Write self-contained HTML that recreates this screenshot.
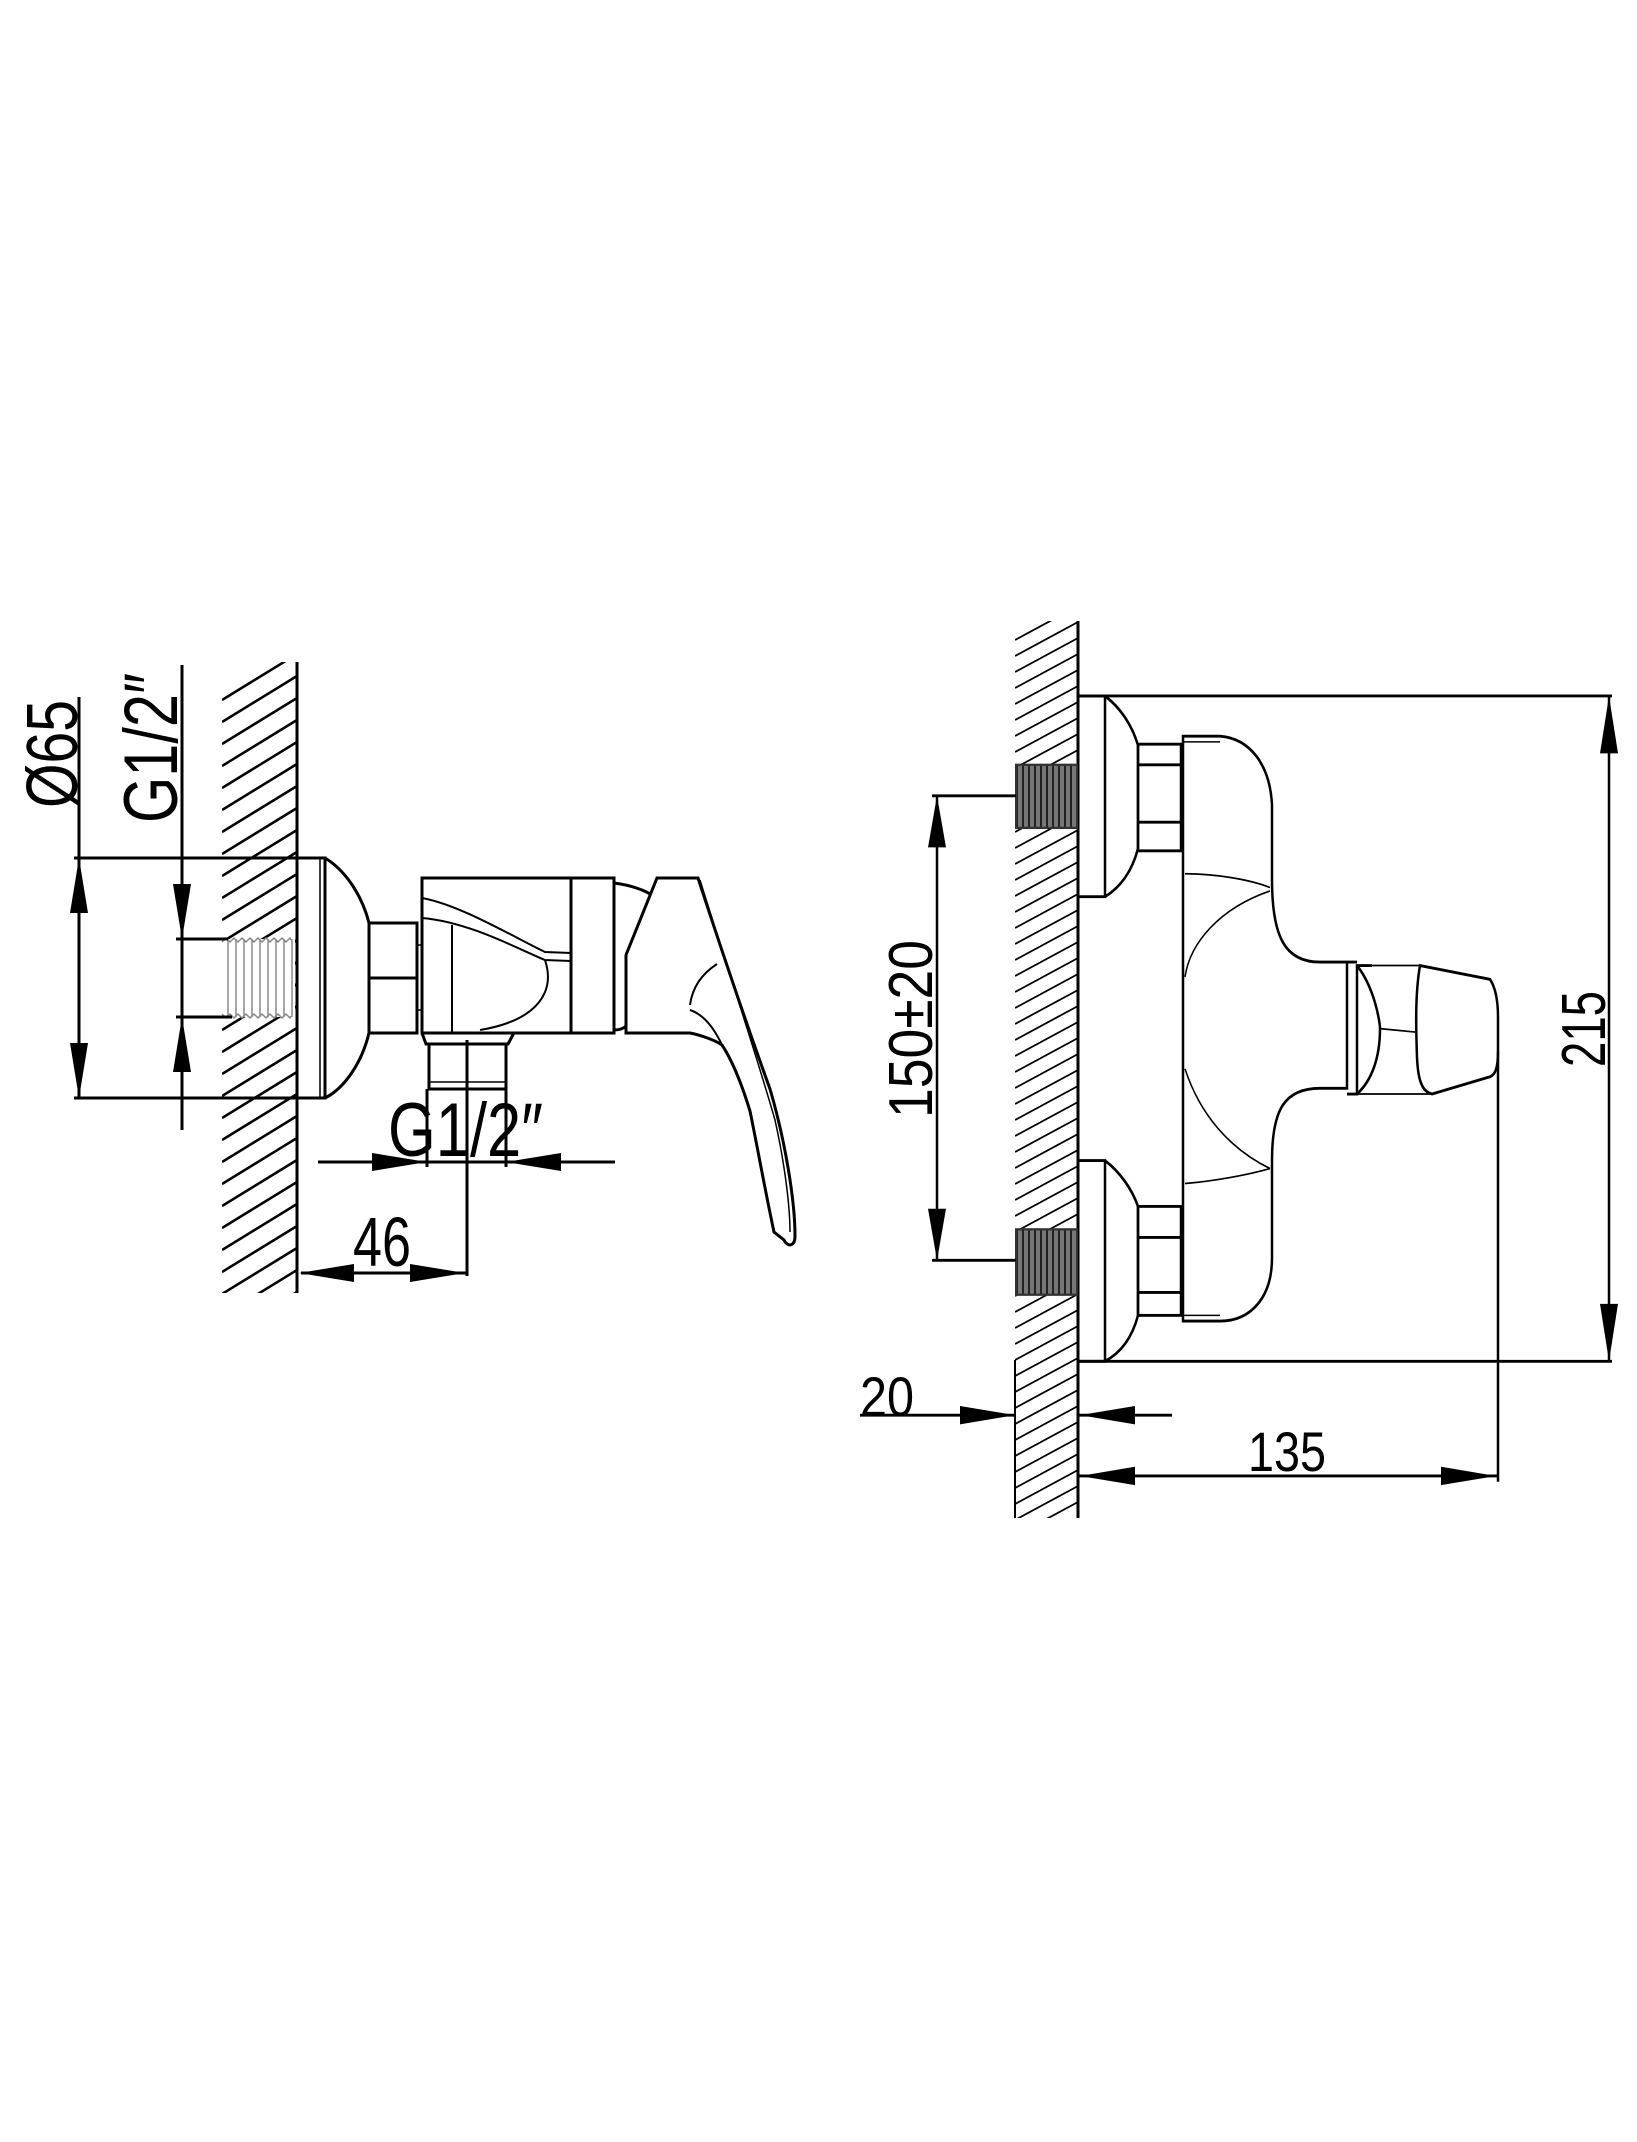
<!DOCTYPE html>
<html><head><meta charset="utf-8"><style>html,body{margin:0;padding:0;background:#fff}svg{display:block}text{font-family:"Liberation Sans",sans-serif;fill:#000}</style></head><body>
<svg width="1637" height="2142" viewBox="0 0 1637 2142" xmlns="http://www.w3.org/2000/svg">
<defs>
<clipPath id="cl"><rect x="222" y="662" width="75" height="631"/></clipPath>
<clipPath id="cr"><rect x="1015" y="621" width="63" height="897"/></clipPath>
<pattern id="tl" width="8" height="100" patternUnits="userSpaceOnUse"><line x1="4" y1="0" x2="4" y2="100" stroke="#888" stroke-width="1.5"/></pattern>
<pattern id="tr" width="6" height="100" patternUnits="userSpaceOnUse"><rect width="6" height="100" fill="#777"/><line x1="3" y1="0" x2="3" y2="100" stroke="#222" stroke-width="2"/></pattern>
</defs>
<g stroke="#000" fill="none">
<!-- left hatch -->
<g clip-path="url(#cl)" stroke-width="2.5">
<path d="M222,700 L297,654 M222,722 L297,676 M222,744 L297,698 M222,766 L297,720 M222,788 L297,742 M222,810 L297,764 M222,832 L297,786 M222,854 L297,808 M222,876 L297,830 M222,898 L297,852 M222,920 L297,874 M222,942 L297,896 M222,964 L297,918 M222,986 L297,940 M222,1008 L297,962 M222,1030 L297,984 M222,1052 L297,1006 M222,1074 L297,1028 M222,1096 L297,1050 M222,1118 L297,1072 M222,1140 L297,1094 M222,1162 L297,1116 M222,1184 L297,1138 M222,1206 L297,1160 M222,1228 L297,1182 M222,1250 L297,1204 M222,1272 L297,1226 M222,1294 L297,1248 M222,1316 L297,1270 M222,1338 L297,1292"/>
</g>
<line x1="297" y1="662" x2="297" y2="1293" stroke-width="3"/>
<!-- thread left -->
<rect x="222" y="939" width="73" height="78" fill="#fff" stroke="none"/>
<rect x="222" y="939" width="73" height="78" fill="url(#tl)" stroke="none"/>
<path d="M222,942 l4,-4 l4,4 l4,-4 l4,4 l4,-4 l4,4 l4,-4 l4,4 l4,-4 l4,4 l4,-4 l4,4 l4,-4 l4,4 l4,-4 l4,4 l4,-4 l1,2 M222,1014 l4,4 l4,-4 l4,4 l4,-4 l4,4 l4,-4 l4,4 l4,-4 l4,4 l4,-4 l4,4 l4,-4 l4,4 l4,-4 l4,4 l4,-4 l4,4 l1,-2" stroke="#888" stroke-width="1.5"/>
<!-- dims left -->
<g stroke-width="3">
<line x1="74" y1="858" x2="325" y2="858"/><line x1="74" y1="1098" x2="325" y2="1098"/>
<line x1="79" y1="697" x2="79" y2="1098"/>
<line x1="182" y1="665" x2="182" y2="1130"/>
<line x1="176" y1="939" x2="228" y2="939"/><line x1="176" y1="1017" x2="232" y2="1017"/>
</g>
<g fill="#000" stroke="none">
<path d="M79,858 l-9,55 h18z"/><path d="M79,1098 l-9,-55 h18z"/>
<path d="M182,939 l-9,-55 h18z"/><path d="M182,1017 l-9,55 h18z"/>
</g>
<g stroke-width="3">
<path d="M297,858 H325 V1098 H297"/>
<path d="M325,858 C345,870 362,895 369,923 V1033 C362,1062 345,1088 325,1098"/>
<line x1="320" y1="858" x2="320" y2="1098" stroke-width="1.5"/>
<rect x="369" y="923" width="48" height="110"/>
<line x1="369" y1="978" x2="417" y2="978"/>
<line x1="417" y1="945" x2="422" y2="945" stroke-width="1.5"/><line x1="417" y1="1010" x2="422" y2="1010" stroke-width="1.5"/>
<rect x="422" y="878" width="192" height="155"/>
<line x1="571" y1="878" x2="571" y2="1033"/>
<path d="M422,898 C460,905 510,935 545,952 L571,953 M422,918 C470,922 520,950 545,960 L571,961" stroke-width="2"/>
<path d="M545,960 C555,990 540,1020 480,1030 M452,925 V1033" stroke-width="2"/>
<path d="M422,1033 L426,1044 H508 L514,1033"/>
<rect x="429" y="1044" width="77" height="45"/>
<line x1="430" y1="1082" x2="505" y2="1082" stroke-width="1.5"/>
<path d="M614,883 C630,885 645,890 653,896"/>
<path d="M614,1030 C620,1030 624,1028 626,1026"/>
<path d="M626,1033 L626,955 L657,878 H698 C715,930 745,1020 770,1089 C785,1140 795,1200 795,1236 C795,1246 788,1248 784,1240 L774,1232 C765,1190 758,1150 750,1111 C742,1085 732,1060 722,1045 C715,1040 700,1035 690,1033 Z" fill="#fff"/>
<path d="M700,880 C720,945 755,1050 775,1120 C786,1170 790,1210 790,1232" stroke-width="1.5"/>
<path d="M717,964 C700,975 692,990 690,1005 M690,1010 C705,1015 715,1030 722,1045" stroke-width="2"/>
<line x1="467" y1="1040" x2="467" y2="1276"/>
<line x1="427" y1="1089" x2="427" y2="1167"/><line x1="506" y1="1089" x2="506" y2="1167"/>
<line x1="318" y1="1162" x2="615" y2="1162"/>
<line x1="301" y1="1273" x2="467" y2="1273"/>
</g>
<g fill="#000" stroke="none">
<path d="M427,1162 l-55,-9 v18z"/><path d="M506,1162 l55,-9 v18z"/>
<path d="M299,1273 l55,-9 v18z"/><path d="M465,1273 l-55,-9 v18z"/>
</g>

<!-- right hatch -->
<g clip-path="url(#cr)" stroke-width="1.8">
<path d="M1015,640 l63,-34 M1015,656 l63,-34 M1015,672 l63,-34 M1015,688 l63,-34 M1015,704 l63,-34 M1015,720 l63,-34 M1015,736 l63,-34 M1015,752 l63,-34 M1015,768 l63,-34 M1015,784 l63,-34 M1015,800 l63,-34 M1015,816 l63,-34 M1015,832 l63,-34 M1015,848 l63,-34 M1015,864 l63,-34 M1015,880 l63,-34 M1015,896 l63,-34 M1015,912 l63,-34 M1015,928 l63,-34 M1015,944 l63,-34 M1015,960 l63,-34 M1015,976 l63,-34 M1015,992 l63,-34 M1015,1008 l63,-34 M1015,1024 l63,-34 M1015,1040 l63,-34 M1015,1056 l63,-34 M1015,1072 l63,-34 M1015,1088 l63,-34 M1015,1104 l63,-34 M1015,1120 l63,-34 M1015,1136 l63,-34 M1015,1152 l63,-34 M1015,1168 l63,-34 M1015,1184 l63,-34 M1015,1200 l63,-34 M1015,1216 l63,-34 M1015,1232 l63,-34 M1015,1248 l63,-34 M1015,1264 l63,-34 M1015,1280 l63,-34 M1015,1296 l63,-34 M1015,1312 l63,-34 M1015,1328 l63,-34 M1015,1344 l63,-34 M1015,1360 l63,-34 M1015,1376 l63,-34 M1015,1392 l63,-34 M1015,1408 l63,-34 M1015,1424 l63,-34 M1015,1440 l63,-34 M1015,1456 l63,-34 M1015,1472 l63,-34 M1015,1488 l63,-34 M1015,1504 l63,-34 M1015,1520 l63,-34 M1015,1536 l63,-34 M1015,1552 l63,-34"/>
</g>
<line x1="1015" y1="1360" x2="1015" y2="1518" stroke-width="2"/>
<line x1="1078" y1="621" x2="1078" y2="1518" stroke-width="3"/>

<g transform="matrix(1,0,0,1.147,0,-89.7)">
<rect x="1016" y="745" width="61" height="55" fill="url(#tr)" stroke="#333" stroke-width="2"/>
<rect x="1016" y="1150" width="61" height="57" fill="url(#tr)" stroke="#333" stroke-width="2"/>
<g stroke-width="2.5">
<path d="M1078,685 H1105 V860 H1078 M1105,685 C1120,695 1132,710 1138,728 V818 C1132,838 1120,852 1105,860"/>
<path d="M1078,1090 H1105 V1265 H1078 M1105,1090 C1120,1100 1132,1115 1138,1130 V1225 C1132,1245 1120,1258 1105,1265"/>
<rect x="1138" y="727" width="43" height="93"/><line x1="1138" y1="745" x2="1181" y2="745"/><line x1="1138" y1="795" x2="1181" y2="795"/>
<rect x="1138" y="1130" width="43" height="95"/><line x1="1138" y1="1157" x2="1181" y2="1157"/><line x1="1138" y1="1205" x2="1181" y2="1205"/>
<path d="M1183,720 H1220 C1250,722 1270,745 1272,780 V845 C1272,895 1285,917 1320,917 H1347 V1027 H1320 C1285,1027 1272,1045 1272,1090 V1175 C1272,1210 1250,1230 1220,1230 H1183 Z"/>
<line x1="1183" y1="725" x2="1220" y2="725" stroke-width="1.2"/>
<line x1="1183" y1="1225" x2="1220" y2="1225" stroke-width="1.2"/>
<path d="M1185,840 C1215,840 1250,845 1270,852 M1270,855 C1220,870 1190,900 1185,930 M1185,1010 C1200,1050 1230,1080 1270,1097 M1185,1110 C1215,1108 1250,1102 1270,1097" stroke-width="1.5"/>
<path d="M1357,917 L1347,917 M1357,920 C1375,940 1380,970 1380,975 C1380,1000 1372,1020 1357,1032 M1347,1032 H1357 V920 H1372"/>
<path d="M1420,920 L1490,932 C1496,940 1498,952 1498,965 V995 C1498,1010 1495,1015 1490,1017 L1432,1032 C1422,1030 1418,1020 1417,1000 C1416,975 1415,945 1420,920 Z"/>
<path d="M1372,920 L1420,920 M1380,975 L1415,978 M1357,1032 L1432,1032" stroke-width="1.5"/>
<line x1="1078" y1="685" x2="1612" y2="685"/>
<line x1="1078" y1="1265" x2="1612" y2="1265"/>
<line x1="1609" y1="685" x2="1609" y2="1265"/>
<line x1="1498" y1="995" x2="1498" y2="1370"/>
<line x1="1078" y1="1365" x2="1498" y2="1365"/>
<line x1="860" y1="1312" x2="1015" y2="1312"/>
<line x1="1078" y1="1312" x2="1172" y2="1312"/>
<line x1="937" y1="772" x2="937" y2="1177"/>
<line x1="932" y1="772" x2="1016" y2="772"/>
<line x1="932" y1="1177" x2="1016" y2="1177"/>
</g>
<g fill="#000" stroke="none">
<path d="M1609,685 l-9,50 h18z"/><path d="M1609,1265 l-9,-50 h18z"/>
<path d="M1080,1365 l55,-8 v16z"/><path d="M1496,1365 l-55,-8 v16z"/>
<path d="M1015,1312 l-55,-8 v16z"/><path d="M1080,1312 l55,-8 v16z"/>
<path d="M937,772 l-9,45 h18z"/><path d="M937,1177 l-9,-45 h18z"/>
</g>
</g>
</g>
<text transform="translate(77,808) rotate(-90)" font-size="72" textLength="108" lengthAdjust="spacingAndGlyphs">Ø65</text>
<text transform="translate(177,823) rotate(-90)" font-size="76" textLength="150" lengthAdjust="spacingAndGlyphs">G1/2″</text>
<text x="388" y="1156" font-size="76" textLength="155" lengthAdjust="spacingAndGlyphs">G1/2″</text>
<text x="353" y="1266" font-size="70" textLength="58" lengthAdjust="spacingAndGlyphs">46</text>
<text transform="translate(932,1118) rotate(-90)" font-size="62" textLength="178" lengthAdjust="spacingAndGlyphs">150±20</text>
<text transform="translate(1605,1067) rotate(-90)" font-size="62" textLength="76" lengthAdjust="spacingAndGlyphs">215</text>
<text x="860" y="1416" font-size="56" textLength="54" lengthAdjust="spacingAndGlyphs">20</text>
<text x="1248" y="1471" font-size="56" textLength="78" lengthAdjust="spacingAndGlyphs">135</text>
</svg>
</body></html>
